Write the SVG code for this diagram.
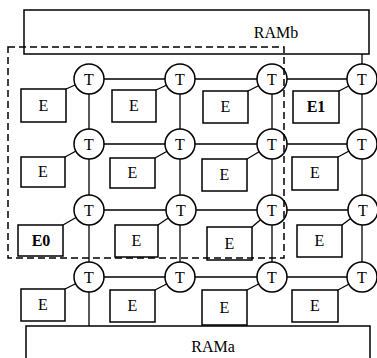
<svg xmlns="http://www.w3.org/2000/svg" width="377" height="358" viewBox="0 0 377 358">
<style>
.box{fill:#fff;stroke:#000;stroke-width:1.5}
.ram{fill:none;stroke:#000;stroke-width:1.5}
.t{fill:#fff;stroke:#000;stroke-width:1.5}
.ln{stroke:#000;stroke-width:1.3;fill:none}
.lbl{font-family:"Liberation Serif","Times New Roman",serif;font-size:16px;fill:#000;text-anchor:middle}
.b{font-weight:bold}
.dash{fill:none;stroke:#000;stroke-width:1.5;stroke-dasharray:7 4}
</style>
<rect width="377" height="358" fill="#fff"/>
<g id="connectors">
<!-- horizontal -->
<line class="ln" x1="89" y1="79" x2="362" y2="79"/>
<line class="ln" x1="89" y1="144" x2="362" y2="144"/>
<line class="ln" x1="89" y1="210" x2="362" y2="210"/>
<line class="ln" x1="89" y1="277" x2="362" y2="277"/>
<!-- vertical -->
<line class="ln" x1="89" y1="79" x2="89" y2="326"/>
<line class="ln" x1="180" y1="79" x2="180" y2="277"/>
<line class="ln" x1="272" y1="79" x2="272" y2="277"/>
<line class="ln" x1="362" y1="54" x2="362" y2="277"/>
<!-- diagonals E to T -->
<line class="ln" x1="66" y1="89" x2="89" y2="79"/>
<line class="ln" x1="156" y1="90" x2="180" y2="79"/>
<line class="ln" x1="248" y1="91" x2="272" y2="79"/>
<line class="ln" x1="339" y1="91" x2="362" y2="79"/>
<line class="ln" x1="65" y1="157" x2="89" y2="144"/>
<line class="ln" x1="155" y1="158" x2="180" y2="144"/>
<line class="ln" x1="247" y1="159" x2="272" y2="144"/>
<line class="ln" x1="338" y1="157" x2="362" y2="144"/>
<line class="ln" x1="63" y1="225" x2="89" y2="210"/>
<line class="ln" x1="158" y1="225" x2="180" y2="210"/>
<line class="ln" x1="252" y1="227" x2="272" y2="210"/>
<line class="ln" x1="342" y1="225" x2="362" y2="210"/>
<line class="ln" x1="65" y1="289" x2="89" y2="277"/>
<line class="ln" x1="155" y1="290" x2="180" y2="277"/>
<line class="ln" x1="247" y1="290" x2="272" y2="277"/>
<line class="ln" x1="338" y1="290" x2="362" y2="277"/>
</g>
<g id="RAMb"><rect class="ram" x="24" y="10" width="345" height="44"/><text class="lbl" x="276" y="38">RAMb</text></g>
<g id="RAMa"><rect class="ram" x="26" y="326" width="344" height="40"/><text class="lbl" x="213" y="352">RAMa</text></g>
<!-- T nodes -->
<g id="T11"><circle class="t" cx="89" cy="79" r="15"/><text class="lbl" x="89" y="85">T</text></g>
<g id="T12"><circle class="t" cx="180" cy="79" r="15"/><text class="lbl" x="180" y="85">T</text></g>
<g id="T13"><circle class="t" cx="272" cy="79" r="15"/><text class="lbl" x="272" y="85">T</text></g>
<g id="T14"><circle class="t" cx="362" cy="79" r="15"/><text class="lbl" x="362" y="85">T</text></g>
<g id="T21"><circle class="t" cx="89" cy="144" r="15"/><text class="lbl" x="89" y="150">T</text></g>
<g id="T22"><circle class="t" cx="180" cy="144" r="15"/><text class="lbl" x="180" y="150">T</text></g>
<g id="T23"><circle class="t" cx="272" cy="144" r="15"/><text class="lbl" x="272" y="150">T</text></g>
<g id="T24"><circle class="t" cx="362" cy="144" r="15"/><text class="lbl" x="362" y="150">T</text></g>
<g id="T31"><circle class="t" cx="89" cy="210" r="15"/><text class="lbl" x="89" y="216">T</text></g>
<g id="T32"><circle class="t" cx="181" cy="210" r="15"/><text class="lbl" x="181" y="216">T</text></g>
<g id="T33"><circle class="t" cx="272" cy="210" r="15"/><text class="lbl" x="272" y="216">T</text></g>
<g id="T34"><circle class="t" cx="363" cy="210" r="15"/><text class="lbl" x="363" y="216">T</text></g>
<g id="T41"><circle class="t" cx="89" cy="277" r="15"/><text class="lbl" x="89" y="283">T</text></g>
<g id="T42"><circle class="t" cx="180" cy="277" r="15"/><text class="lbl" x="180" y="283">T</text></g>
<g id="T43"><circle class="t" cx="272" cy="277" r="15"/><text class="lbl" x="272" y="283">T</text></g>
<g id="T44"><circle class="t" cx="362" cy="277" r="15"/><text class="lbl" x="362" y="283">T</text></g>
<!-- E nodes -->
<g id="E11"><rect class="box" x="21" y="89" width="45" height="33"/><text class="lbl" x="43.5" y="111">E</text></g>
<g id="E12"><rect class="box" x="112" y="90" width="44" height="32"/><text class="lbl" x="134" y="111">E</text></g>
<g id="E13"><rect class="box" x="203" y="91" width="45" height="32"/><text class="lbl" x="225.5" y="112">E</text></g>
<g id="E1"><rect class="box" x="293" y="91" width="46" height="32"/><text class="lbl b" x="316" y="112">E1</text></g>
<g id="E21"><rect class="box" x="21" y="157" width="44" height="30"/><text class="lbl" x="43" y="177">E</text></g>
<g id="E22"><rect class="box" x="110" y="158" width="45" height="30"/><text class="lbl" x="132.5" y="178">E</text></g>
<g id="E23"><rect class="box" x="202" y="159" width="45" height="32"/><text class="lbl" x="224.5" y="180">E</text></g>
<g id="E24"><rect class="box" x="292" y="157" width="46" height="33"/><text class="lbl" x="315" y="178">E</text></g>
<g id="E0"><rect class="box" x="18" y="225" width="45" height="31"/><text class="lbl b" x="41" y="246">E0</text></g>
<g id="E32"><rect class="box" x="115" y="225" width="43" height="32"/><text class="lbl" x="136.5" y="246">E</text></g>
<g id="E33"><rect class="box" x="207" y="227" width="45" height="33"/><text class="lbl" x="229.5" y="249">E</text></g>
<g id="E34"><rect class="box" x="297" y="225" width="45" height="32"/><text class="lbl" x="319.5" y="246">E</text></g>
<g id="E41"><rect class="box" x="21" y="289" width="44" height="32"/><text class="lbl" x="43" y="310">E</text></g>
<g id="E42"><rect class="box" x="110" y="290" width="45" height="32"/><text class="lbl" x="132.5" y="311">E</text></g>
<g id="E43"><rect class="box" x="202" y="290" width="45" height="35"/><text class="lbl" x="224.5" y="313">E</text></g>
<g id="E44"><rect class="box" x="292" y="290" width="46" height="32"/><text class="lbl" x="315" y="311">E</text></g>
<g id="cluster"><rect class="dash" x="8" y="47" width="276" height="211"/></g>
</svg>
